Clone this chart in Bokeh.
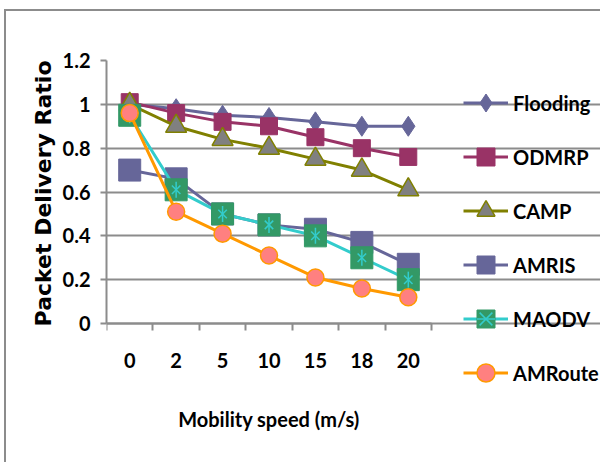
import numpy as np
from bokeh.plotting import figure
from bokeh.models import Range1d, FixedTicker, Legend, LegendItem, Title
from bokeh.embed import file_html
from bokeh.resources import INLINE

# ---- data ----
speeds = ["0", "2", "5", "10", "15", "18", "20"]
flooding = [1.00, 0.98, 0.95, 0.94, 0.92, 0.90, 0.90]
odmrp = [1.01, 0.96, 0.92, 0.90, 0.85, 0.80, 0.76]
camp = [1.00, 0.90, 0.84, 0.80, 0.75, 0.70, 0.61]
amris = [0.70, 0.66, 0.50, 0.45, 0.43, 0.37, 0.27]
maodv = [0.95, 0.61, 0.50, 0.45, 0.40, 0.30, 0.20]
amroute = [0.96, 0.51, 0.41, 0.31, 0.21, 0.16, 0.12]
y_ticks = [0, 0.2, 0.4, 0.6, 0.8, 1, 1.2]
y_tick_labels = ["0", "0.2", "0.4", "0.6", "0.8", "1", "1.2"]

n = len(speeds)
xpos = [i + 0.5 for i in range(n)]
GRID = "#8c8c8c"

# layout (pixels): plot box 325 x 263 px; the frame is extended right and
# down so that the legend, which sits outside the plot box, is not clipped
W, H = 596, 453
LEFT, TOP = 100, 49
BOX_W, BOX_H = 325, 263
frame_w = W - LEFT
frame_h = H - TOP
x_end = n * frame_w / BOX_W
y_top = 1.2
y_start = y_top - frame_h * y_top / BOX_H

p = figure(width=W, height=H, x_range=Range1d(0, x_end), y_range=Range1d(y_start, y_top),
           output_backend="svg", toolbar_location=None,
           min_border_left=LEFT, min_border_right=0, min_border_top=TOP, min_border_bottom=0)
p.styles = {"border-left": "2px solid #8c8c8c", "border-top": "2px solid #8c8c8c"}
p.margin = (9, 0, 0, 4)
p.outline_line_color = None
p.background_fill_color = "white"
p.border_fill_color = "white"

p.xgrid.visible = False
p.ygrid.grid_line_color = GRID
p.ygrid.grid_line_width = 2
p.ygrid.bounds = (0, n)

# x axis: labels at category centres, ticks at boundaries
xax = p.xaxis[0]
xax.fixed_location = 0
xax.bounds = (0, n)
xax.ticker = FixedTicker(ticks=xpos, minor_ticks=list(range(n + 1)))
xax.major_label_overrides = {x: s for x, s in zip(xpos, speeds)}
xax.major_tick_out = 0
xax.major_tick_in = 0
xax.minor_tick_out = 7
xax.minor_tick_in = 0
xax.minor_tick_line_color = GRID
xax.minor_tick_line_width = 2
xax.axis_line_color = GRID
xax.axis_line_width = 2
xax.major_label_standoff = 22
xax.axis_label = "Mobility speed (m/s)"
xax.axis_label_standoff = 36
xax.axis_label_text_font = "Lato"
xax.axis_label_text_font_size = "20px"
xax.axis_label_text_font_style = "bold"
xax.axis_label_text_color = "black"

yax = p.yaxis[0]
yax.bounds = (0, 1.2)
yax.ticker = FixedTicker(ticks=y_ticks)
yax.major_label_overrides = {v: s for v, s in zip(y_ticks, y_tick_labels)}
yax.major_tick_out = 6
yax.major_tick_in = 0
yax.minor_tick_out = 0
yax.minor_tick_in = 0
yax.major_tick_line_color = GRID
yax.major_tick_line_width = 2
yax.axis_line_color = GRID
yax.axis_line_width = 2
yax.major_label_standoff = 10

for ax in (xax, yax):
    ax.major_label_text_font = "Lato"
    ax.major_label_text_font_style = "bold"
    ax.major_label_text_font_size = "20px"
    ax.major_label_text_color = "black"

# y-axis title, aligned to the top of the plot box (the frame runs further down)
ytitle = Title(text="Packet Delivery Ratio", align="right", offset=0, standoff=7,
               text_font="DejaVu Sans", text_font_size="22px", text_font_style="bold",
               text_color="black")
p.add_layout(ytitle, "left")

items = []

# Flooding
r1 = p.line(xpos, flooding, line_color="#666699", line_width=3)
m1 = p.scatter(xpos, flooding, marker="diamond", size=20,
               fill_color="#666699", line_color="#666699")
items.append(LegendItem(label="Flooding", renderers=[r1, m1]))

# ODMRP
r2 = p.line(xpos, odmrp, line_color="#993366", line_width=3)
m2 = p.scatter(xpos, odmrp, marker="square", size=17, fill_color="#993366", line_color="#993366")
items.append(LegendItem(label="ODMRP", renderers=[r2, m2]))

# CAMP
r3 = p.line(xpos, camp, line_color="#808000", line_width=3)
m3 = p.scatter(xpos, camp, marker="triangle", size=21, fill_color="#808080",
               line_color="#808000", line_width=1.5)
items.append(LegendItem(label="CAMP", renderers=[r3, m3]))

# AMRIS
r4 = p.line(xpos, amris, line_color="#666699", line_width=3)
m4 = p.scatter(xpos, amris, marker="square", size=22, fill_color="#666699", line_color="#666699")
items.append(LegendItem(label="AMRIS", renderers=[r4, m4]))

# MAODV
r5 = p.line(xpos, maodv, line_color="#33CCCC", line_width=3)
m5 = p.scatter(xpos, maodv, marker="square", size=22, fill_color="#339966", line_color="#339966")
m5b = p.scatter(xpos, maodv, marker="x", size=12, line_color="#33CCCC", line_width=1.5)
m5c = p.scatter(xpos, maodv, marker="dash", angle=np.pi / 2, size=16, line_color="#33CCCC", line_width=1.5)
items.append(LegendItem(label="MAODV", renderers=[r5, m5, m5b, m5c]))

# AMRoute
r6 = p.line(xpos, amroute, line_color="#FF9900", line_width=3)
m6 = p.scatter(xpos, amroute, marker="circle", size=17, fill_color="#FF8080",
               line_color="#FF9900", line_width=1.5)
items.append(LegendItem(label="AMRoute", renderers=[r6, m6]))

legend = Legend(items=items, location=(357, 69), padding=0, margin=0, spacing=9,
                glyph_width=45, glyph_height=45, label_height=20, label_standoff=5,
                label_text_font="Lato", label_text_font_style="bold",
                label_text_font_size="20px", label_text_color="black",
                border_line_color=None, background_fill_alpha=0)
p.add_layout(legend)

open("out.html", "w").write(file_html(p, INLINE))
